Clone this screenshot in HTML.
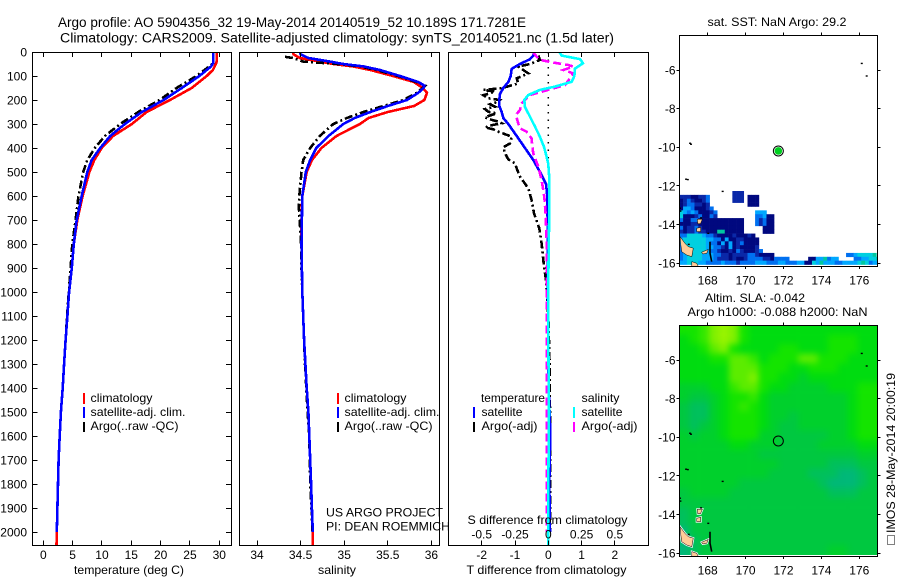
<!DOCTYPE html>
<html lang="en">
<head>
<meta charset="utf-8">
<title>Argo profile 5904356_32</title>
<style>
html,body{margin:0;padding:0;background:#fff;width:900px;height:580px;overflow:hidden}
svg{display:block}
text{font-family:"Liberation Sans",sans-serif;fill:#000;font-size:12px}
.big{font-size:13.5px}
</style>
</head>
<body>
<svg id="chart" width="900" height="580" viewBox="0 0 900 580" xmlns="http://www.w3.org/2000/svg">
<defs>
<clipPath id="clip-temp"><rect x="32" y="52" width="199" height="493"/></clipPath>
<clipPath id="clip-sal"><rect x="239" y="52" width="200" height="493"/></clipPath>
<clipPath id="clip-diff"><rect x="448" y="52" width="200" height="493"/></clipPath>
<clipPath id="clip-map1"><rect x="679" y="35" width="198" height="231"/></clipPath>
<clipPath id="clip-map2"><rect x="679" y="325" width="198" height="231"/></clipPath>
<clipPath id="clip-sla-field"><rect x="679" y="325" width="198" height="230"/></clipPath>
<filter id="sla-smooth" filterUnits="userSpaceOnUse" x="660" y="305" width="240" height="270" color-interpolation-filters="sRGB">
<feGaussianBlur stdDeviation="3.2"/>
<feComponentTransfer><feFuncA type="linear" slope="60"/></feComponentTransfer>
</filter>
</defs>
<rect width="900" height="580" fill="#fff"/>

<text class="big" x="58" y="27" textLength="468" lengthAdjust="spacingAndGlyphs">Argo profile: AO 5904356_32 19-May-2014 20140519_52 10.189S 171.7281E</text>
<text class="big" x="60" y="42.5" textLength="554" lengthAdjust="spacingAndGlyphs">Climatology: CARS2009. Satellite-adjusted climatology: synTS_20140521.nc (1.5d later)</text>

<g id="layer-map1"></g>
<g>
<g clip-path="url(#clip-sla-field)"><g id="layer-sla-field" filter="url(#sla-smooth)"></g></g>
<g id="layer-map2"></g>
</g>
<g id="layer-lines"></g>
<g id="layer-axes"></g>

<g>
<rect x="83" y="393" width="2" height="11" fill="#f00"/>
<rect x="83" y="407" width="2" height="11" fill="#00f"/>
<rect x="83" y="422" width="2" height="10" fill="#000"/>
<text x="90.5" y="402" textLength="62" lengthAdjust="spacingAndGlyphs">climatology</text>
<text x="90.5" y="416" textLength="95" lengthAdjust="spacingAndGlyphs">satellite-adj. clim.</text>
<text x="90.5" y="430" textLength="88" lengthAdjust="spacingAndGlyphs">Argo(..raw -QC)</text>
</g>
<g>
<rect x="337" y="393" width="2" height="11" fill="#f00"/>
<rect x="337" y="407" width="2" height="11" fill="#00f"/>
<rect x="337" y="422" width="2" height="10" fill="#000"/>
<text x="344.5" y="402" textLength="62" lengthAdjust="spacingAndGlyphs">climatology</text>
<text x="344.5" y="416" textLength="95" lengthAdjust="spacingAndGlyphs">satellite-adj. clim.</text>
<text x="344.5" y="430" textLength="88" lengthAdjust="spacingAndGlyphs">Argo(..raw -QC)</text>
</g>
<g>
<text x="481" y="402" textLength="64" lengthAdjust="spacingAndGlyphs">temperature</text>
<rect x="473" y="407" width="2" height="11" fill="#00f"/>
<rect x="473" y="422" width="2" height="10" fill="#000"/>
<text x="481.5" y="416" textLength="41" lengthAdjust="spacingAndGlyphs">satellite</text>
<text x="481.5" y="430" textLength="56" lengthAdjust="spacingAndGlyphs">Argo(-adj)</text>
<text x="581.5" y="402" textLength="38" lengthAdjust="spacingAndGlyphs">salinity</text>
<rect x="573" y="407" width="2" height="11" fill="#0ff"/>
<rect x="573" y="422" width="2" height="10" fill="#f0f"/>
<text x="581.5" y="416" textLength="41" lengthAdjust="spacingAndGlyphs">satellite</text>
<text x="581.5" y="430" textLength="56" lengthAdjust="spacingAndGlyphs">Argo(-adj)</text>
</g>

<text x="326" y="516.5" textLength="117" lengthAdjust="spacingAndGlyphs">US ARGO PROJECT</text>
<text x="326" y="530.5" textLength="124" lengthAdjust="spacingAndGlyphs">PI: DEAN ROEMMICH</text>
<text x="467.5" y="524" textLength="160" lengthAdjust="spacingAndGlyphs">S difference from climatology</text>
<text x="74" y="574" textLength="110" lengthAdjust="spacingAndGlyphs">temperature (deg C)</text>
<text x="318" y="574" textLength="38" lengthAdjust="spacingAndGlyphs">salinity</text>
<text x="466.5" y="574" textLength="160" lengthAdjust="spacingAndGlyphs">T difference from climatology</text>

<text x="707.5" y="26" textLength="139" lengthAdjust="spacingAndGlyphs">sat. SST: NaN Argo: 29.2</text>
<text x="705" y="302" textLength="100" lengthAdjust="spacingAndGlyphs">Altim. SLA: -0.042</text>
<text x="687.5" y="316" textLength="180" lengthAdjust="spacingAndGlyphs">Argo h1000: -0.088 h2000: NaN</text>

<rect x="887.5" y="535.5" width="7" height="9" fill="none" stroke="#000" stroke-width="1" stroke-dasharray="1 1"/>
<text transform="translate(895,533) rotate(-90)" textLength="160" lengthAdjust="spacingAndGlyphs">IMOS 28-May-2014 20:00:19</text>

<script>
// ---- temperature panel data (depth m, deg C)
const tempClimDepth = [0,40,50,75,100,150,200,250,300,350,400,450,500,600,700,800,900,1000,1100,1200,1300,1400,1500,1600,1700,1800,1900,2000,2054];
const tempClim = [29.55,29.55,29.4,28.9,27.85,25.3,21.6,17.6,15.1,11.9,9.95,8.7,7.85,6.7,5.8,5.2,4.85,4.4,4.1,3.8,3.55,3.3,3.0,2.8,2.6,2.5,2.4,2.3,2.25];
const tempSatDepth = [0,45,60,100,150,200,250,300,350,400,450,500,600,700,800,900,1000,1100,1200,1300,1400,1500,1600,1700,1800,1900,2000];
const tempSat = [29,29,28.6,26.6,23.6,20.5,16.8,13.9,11.4,9.7,8.25,7.5,6.55,5.7,5.2,4.85,4.4,4.1,3.8,3.55,3.3,3.0,2.8,2.6,2.5,2.4,2.3];
const tempArgoDepth = [5,45,60,100,150,200,250,300,350,400,450,500,600,700,800,900,1000,1100,1200,1300,1400,1500,1600,1700,1800,1900,2000];
const tempArgo = [29,29,28.3,26.1,22.7,19.8,16.2,13.1,10.5,8.8,7.5,6.8,6.0,5.5,4.95,4.65,4.35,4.05,3.8,3.55,3.3,3.0,2.8,2.6,2.5,2.4,2.3];

// ---- salinity panel data
const salClimDepth = [0,10,25,40,50,60,75,100,125,150,170,200,225,250,275,300,350,400,450,500,600,700,800,900,1000,1100,1200,1300,1400,1500,1600,1700,1800,1900,2000,2054];
const salClim = [34.41,34.42,34.49,34.72,34.875,35.1,35.3,35.56,35.8,35.9,35.95,35.92,35.8,35.5,35.28,35.18,34.91,34.74,34.63,34.57,34.52,34.51,34.51,34.515,34.52,34.53,34.54,34.555,34.57,34.59,34.6,34.61,34.62,34.63,34.64,34.64];
const salSatDepth = [0,10,25,40,50,60,75,100,125,140,150,170,200,225,250,275,300,350,400,450,500,600,700,800,900,1000,1100,1200,1300,1400,1500,1600,1700,1800,1900,2000];
const salSat = [34.49,34.5,34.59,34.84,34.99,35.22,35.41,35.64,35.85,35.92,35.91,35.85,35.72,35.5,35.3,35.12,34.99,34.82,34.68,34.61,34.56,34.52,34.515,34.51,34.515,34.52,34.53,34.54,34.555,34.57,34.59,34.6,34.61,34.62,34.63,34.64];
const salArgoDepth = [20,25,40,50,60,75,100,125,140,150,170,200,225,250,275,300,350,400,450,500,600,650,700,800,900,1000,1100,1200,1300,1400,1500,1600,1700,1800,1900,2000];
const salArgo = [34.32,34.41,34.53,34.92,35.18,35.37,35.62,35.83,35.93,35.9,35.83,35.68,35.45,35.22,35.03,34.875,34.72,34.61,34.53,34.51,34.485,34.48,34.49,34.505,34.51,34.52,34.53,34.54,34.55,34.565,34.58,34.6,34.605,34.61,34.625,34.635];

// ---- difference panel data
const diffTSatDepth = [0,10,30,50,70,100,125,150,175,200,225,250,275,300,350,400,450,500,550,600,700,800,1000,1200,1400,1550,1650,1800,2000];
const diffTSat = [-0.45,-0.42,-0.55,-0.85,-1.1,-1.13,-1.2,-1.35,-1.45,-1.47,-1.47,-1.4,-1.35,-1.2,-0.95,-0.7,-0.45,-0.25,-0.07,-0.03,-0.02,-0.01,-0.01,0,0.01,0.05,0.05,0.03,0.05];
const diffTArgoDepth = [15,33,50,61,89,110,131,151,158,165,172,180,193,200,207,218,228,238,249,256,262,272,283,290,297,305,314,322,332,353,381,397,422,447,464,485,519,568,617,672,735,797,894,950,1100,1300,1500,1700,1900,2000];
const diffTArgo = [-0.3,-0.25,-0.55,-0.9,-0.6,-0.95,-0.9,-1.4,-1.95,-1.6,-1.75,-1.95,-1.8,-1.45,-1.5,-1.75,-1.6,-1.9,-1.8,-1.55,-1.7,-1.9,-1.7,-1.5,-1.4,-1.7,-1.9,-1.65,-1.5,-1.1,-1.15,-1.35,-1.3,-1.2,-1,-0.95,-0.85,-0.6,-0.5,-0.43,-0.27,-0.2,-0.13,-0.07,0,0.04,0.05,0.05,0.05,0.05];
const diffSSatDepth = [0,15,30,47,69,100,124,144,158,179,200,228,269,311,353,394,436,467,533,617,950,1200,1500,1800,2054];
const diffSSat = [0.083,0.1,0.24,0.26,0.2,0.196,0.176,0.05,-0.063,-0.15,-0.18,-0.176,-0.138,-0.1,-0.063,-0.033,-0.013,0,0.008,0.008,0,0,0.005,0,0];
const diffSArgoDepth = [0,19,33,44,54,61,75,89,110,138,156,179,214,242,262,297,318,332,360,422,478,533,603,672,783,950,1500,2000];
const diffSArgo = [-0.113,-0.088,-0.063,0.038,0.15,0.188,0.113,0.188,0.163,0.125,0.013,-0.138,-0.2,-0.213,-0.243,-0.226,-0.213,-0.163,-0.126,-0.113,-0.075,-0.05,-0.03,-0.02,-0.013,-0.013,-0.012,-0.012];

// ---- tick labels
const depthTicks = [0,100,200,300,400,500,600,700,800,900,1000,1100,1200,1300,1400,1500,1600,1700,1800,1900,2000];
const tempTicks = [0,5,10,15,20,25,30];
const salTicks = [34,34.5,35,35.5,36];
const diffTTicks = [-2,-1,0,1,2];
const diffSTickLabels = ['-0.5','-0.25','0','0.25','0.5'];
const diffSTicks = [-0.5,-0.25,0,0.25,0.5];
const lonTicks = [168,170,172,174,176];
const latTicks = [-6,-8,-10,-12,-14,-16];

// ---- SST heatmap: rows of 0.2 degree cells from the top of the filled area; digit = colour class, dot = missing
const sstRows = [
"..............222",
"22211223......222.111",
"12321123......222.111",
"12332212..........111",
"144311123",
"5434311123..........444",
"5111231132..........33411",
"31133111111111111...32311",
"11122111111111111...32311",
"31223211111111111.....111",
"21223221116611111.....111",
"33555543321111211121",
"455555544331411221111",
"455555543314141231111",
"355555544332141211112",
"3545555433211213211123",
"3455554443322122223321111...................33455556",
"34555544432221211233332213333.....11446344....3344556",
"44555443333433323333444333443334411546444334444565344444"
];
const sstColors = {1:'#00087f',2:'#0a28a8',3:'#0070f0',4:'#00a8ff',5:'#00d0e0',6:'#00c8a0'};

// ---- SLA heatmap: coarse grid, digit = anomaly class (low to high)
const slaRows = [
"55689854444444444444",
"45689854444444455544",
"44578544445544455544",
"44455776455577555444",
"44444777555445554444",
"44444778554434444444",
"33344677544333344455",
"32234556433333333455",
"21134565433333333455",
"21134555433233333455",
"21234555432233333455",
"32334555332222233455",
"33333443332222333344",
"33333333222222222233",
"33333333332222211122",
"33333333322221110012",
"33333322222222100012",
"23333222222222211122",
"22222222222222222222",
"12222222222222222222",
"12222222222222222222",
"02222222222222222222",
"01222222222222222222",
"01222222222222233222"
];
const slaColors = ['#00b878','#00c05c','#00c840','#00d02c','#00dc10','#14e400','#34e800','#5cec00','#80f000','#98f400'];

// ---- coast (lon, lat)
const islandShapes = [
[[166.54,-14.62],[166.8,-14.97],[166.98,-15.14],[167.24,-15.22],[167.16,-15.66],[166.89,-15.57],[166.63,-15.4],[166.58,-15.05]],
[[167.42,-14.19],[167.63,-14.14],[167.63,-14.36],[167.42,-14.36]],
[[167.45,-13.72],[167.72,-13.72],[167.62,-13.95],[167.47,-13.95]],
[[167.68,-15.43],[168.03,-15.28],[167.95,-15.48],[167.74,-15.52]],
[[167.16,-15.91],[167.42,-16],[167.51,-16.17],[167.16,-16.17]]
];
const coastLine = [[168.12,-14.88],[168.12,-15.48],[168.21,-15.91]];
const coastSpecks = [[176.13,-5.66],[176.39,-6.31],[167.07,-9.79],[167.12,-9.84],[166.86,-11.65],[166.95,-11.67],[168.79,-12.28],[166.54,-13.15],[166.56,-13.3],[168.03,-14.45],[167.65,-13.65],[167.0,-15.02]];
const profileLon = 171.728;
const profileLat = -10.189;

// ---- axis functions
const NS = 'http://www.w3.org/2000/svg';
const yDepth = d => 52 + d * 0.24;
const xTemp = t => 43.3 + t * 5.867;
const xSal = s => 257 + (s - 34) * 87.2;
const xDiffT = t => 548.3 + t * 33.3;
const xDiffS = s => 548.3 + s * 133.2;
const xLon = lon => 707.7 + (lon - 168) * 18.95;
const yLat1 = lat => 70 + (-6 - lat) * 19.33;
const yLat2 = lat => 360 + (-6 - lat) * 19.33;

const lines = document.getElementById('layer-lines');
const axes = document.getElementById('layer-axes');
const map1 = document.getElementById('layer-map1');
const map2 = document.getElementById('layer-map2');
const slaField = document.getElementById('layer-sla-field');

function make(tag, parent, props) {
  const el = document.createElementNS(NS, tag);
  for (const k in props) el.setAttribute(k, props[k]);
  parent.appendChild(el);
  return el;
}
function series(name, xs, ds, xf, color, dash, clip) {
  const pts = xs.map((v, i) => xf(v).toFixed(1) + ',' + yDepth(ds[i]).toFixed(1)).join(' ');
  const el = make('polyline', lines, {points: pts, fill: 'none', stroke: color, 'stroke-width': 2.6, 'stroke-dasharray': dash, 'clip-path': 'url(#' + clip + ')', 'shape-rendering': 'crispEdges'});
  
  
}
function label(name, x, y, str, anchor) {
  const el = make('text', axes, {x: x, y: y, 'text-anchor': anchor});
  el.textContent = str;
  
  
}
function tick(name, x1, y1, x2, y2) {
  const el = make('line', axes, {x1: x1, y1: y1, x2: x2, y2: y2, stroke: '#000', 'stroke-width': 1, 'shape-rendering': 'crispEdges'});
  
  
}
function frame(name, x, y, w, h) {
  const el = make('rect', axes, {x: x, y: y, width: w, height: h, fill: 'none', stroke: '#000', 'stroke-width': 1, 'shape-rendering': 'crispEdges'});
  
  
}
const snap = v => Math.round(v - 0.5) + 0.5;

// ---- profile panels
series('temperature-climatology-line', tempClim, tempClimDepth, xTemp, '#f00', 'none', 'clip-temp');
series('temperature-argo-line', tempArgo, tempArgoDepth, xTemp, '#000', '8 3 2 3', 'clip-temp');
series('temperature-satellite-line', tempSat, tempSatDepth, xTemp, '#00f', 'none', 'clip-temp');
series('salinity-climatology-line', salClim, salClimDepth, xSal, '#f00', 'none', 'clip-sal');
series('salinity-argo-line', salArgo, salArgoDepth, xSal, '#000', '8 3 2 3', 'clip-sal');
series('salinity-satellite-line', salSat, salSatDepth, xSal, '#00f', 'none', 'clip-sal');

const zeroLine = make('line', lines, {x1: xDiffT(0), y1: 52, x2: xDiffT(0), y2: yDepth(450), stroke: '#000', 'stroke-width': 1.5, 'stroke-dasharray': '1.5 6'});


series('t-difference-argo-line', diffTArgo, diffTArgoDepth, xDiffT, '#000', '8 3 2 3', 'clip-diff');
series('t-difference-satellite-line', diffTSat, diffTSatDepth, xDiffT, '#00f', 'none', 'clip-diff');
series('s-difference-argo-line', diffSArgo, diffSArgoDepth, xDiffS, '#f0f', '8 4', 'clip-diff');
series('s-difference-satellite-line', diffSSat, diffSSatDepth, xDiffS, '#0ff', 'none', 'clip-diff');

// ---- frames and ticks
frame('temperature-panel-frame', 32.5, 52.5, 199, 493);
frame('salinity-panel-frame', 239.5, 52.5, 200, 493);
frame('difference-panel-frame', 448.5, 52.5, 200, 493);

depthTicks.forEach(d => {
  const y = snap(yDepth(d));
  if (d > 0) tick('depth-tick-left', 32.5, y, 37.5, y);
  if (d > 0) tick('depth-tick-right', 231.5, y, 226, y);
  label('depth-tick-label', 27, yDepth(d) + 4.3, String(d), 'end');
});
tempTicks.forEach(t => {
  const x = snap(xTemp(t));
  tick('temperature-tick-top', x, 52.5, x, 57);
  tick('temperature-tick-bottom', x, 545.5, x, 540.5);
  label('temperature-tick-label', xTemp(t), 559, String(t), 'middle');
});
salTicks.forEach(s => {
  const x = snap(xSal(s));
  tick('salinity-tick-top', x, 52.5, x, 57);
  tick('salinity-tick-bottom', x, 545.5, x, 540.5);
  label('salinity-tick-label', xSal(s), 559, String(s), 'middle');
});
diffTTicks.forEach(t => {
  const x = snap(xDiffT(t));
  tick('t-difference-tick-top', x, 52.5, x, 57);
  tick('t-difference-tick-bottom', x, 545.5, x, 540.5);
  label('t-difference-tick-label', xDiffT(t), 559, String(t), 'middle');
});
diffSTicks.forEach((s, i) => {
  label('s-difference-tick-label', xDiffS(s), 538.5, diffSTickLabels[i], 'middle');
});

// ---- SST heatmap
const cellW = 3.79;
const cellH = 3.87;
sstRows.forEach((row, r) => {
  for (let c = 0; c < row.length; c++) {
    const code = row[c];
    if (code === '.') continue;
    const cell = make('rect', map1, {x: (679.3 + c * cellW).toFixed(2), y: (191 + r * cellH).toFixed(2), width: cellW + 0.3, height: cellH + 0.3, fill: sstColors[code], 'clip-path': 'url(#clip-map1)'});
    
    
  }
});

// ---- SLA heatmap
const slaW = 198 / 20;
const slaH = 230 / slaRows.length;
slaRows.forEach((row, r) => {
  for (let c = 0; c < row.length; c++) {
    const cell = make('rect', slaField, {x: (679.3 + c * slaW).toFixed(2), y: (325 + r * slaH).toFixed(2), width: slaW + 0.3, height: slaH + 0.3, fill: slaColors[+row[c]]});
    
    
  }
});

// ---- coast, marker, map axes
function drawCoast(parent, yLat, clip, halo) {
  islandShapes.forEach(shape => {
    const pts = shape.map(p => xLon(p[0]).toFixed(1) + ',' + yLat(p[1]).toFixed(1)).join(' ');
    if (halo) {
      const h = make('polygon', parent, {points: pts, fill: '#fff', stroke: '#fff', 'stroke-width': 2, 'clip-path': 'url(#' + clip + ')'});
      
      
    }
    const el = make('polygon', parent, {points: pts, fill: '#ffcc99', stroke: '#000', 'stroke-width': 0.5, 'clip-path': 'url(#' + clip + ')'});
    
    
  });
  const cl = coastLine.map(p => xLon(p[0]).toFixed(1) + ',' + yLat(p[1]).toFixed(1)).join(' ');
  const line = make('polyline', parent, {points: cl, fill: 'none', stroke: '#000', 'stroke-width': 1.6, 'clip-path': 'url(#' + clip + ')'});
  
  
  coastSpecks.forEach(p => {
    const s = make('rect', parent, {x: xLon(p[0]) - 1, y: yLat(p[1]) - 0.7, width: 2, height: 1.4, fill: '#000'});
    
    
  });
}
drawCoast(map1, yLat1, 'clip-map1', false);
drawCoast(map2, yLat2, 'clip-map2', true);

const ring1 = make('circle', map1, {cx: xLon(profileLon), cy: yLat1(profileLat), r: 5, fill: '#fff', stroke: '#000', 'stroke-width': 1});


const dot1 = make('circle', map1, {cx: xLon(profileLon), cy: yLat1(profileLat), r: 3.8, fill: '#00d020'});


const ring2 = make('circle', map2, {cx: xLon(profileLon), cy: yLat2(profileLat), r: 5, fill: 'none', stroke: '#000', 'stroke-width': 1});



frame('sst-map-frame', 679.5, 35.5, 198, 231);
frame('sla-map-frame', 679.5, 325.5, 198, 231);
[[35.5, 266.5, yLat1, 'sst'], [325.5, 556.5, yLat2, 'sla']].forEach(cfg => {
  lonTicks.forEach(lon => {
    const x = snap(xLon(lon));
    tick(cfg[3] + '-lon-tick-top', x, cfg[0], x, cfg[0] - 3);
    tick(cfg[3] + '-lon-tick-bottom', x, cfg[1], x, cfg[1] + 2.5);
    label(cfg[3] + '-lon-tick-label', xLon(lon), cfg[1] + 18, String(lon), 'middle');
  });
  latTicks.forEach(lat => {
    const y = snap(cfg[2](lat));
    tick(cfg[3] + '-lat-tick-left', 679.5, y, 676.5, y);
    tick(cfg[3] + '-lat-tick-right', 877.5, y, 880.5, y);
    label(cfg[3] + '-lat-tick-label', 675.5, cfg[2](lat) + 4.3, String(lat), 'end');
  });
});
</script>
</svg>
</body>
</html>
